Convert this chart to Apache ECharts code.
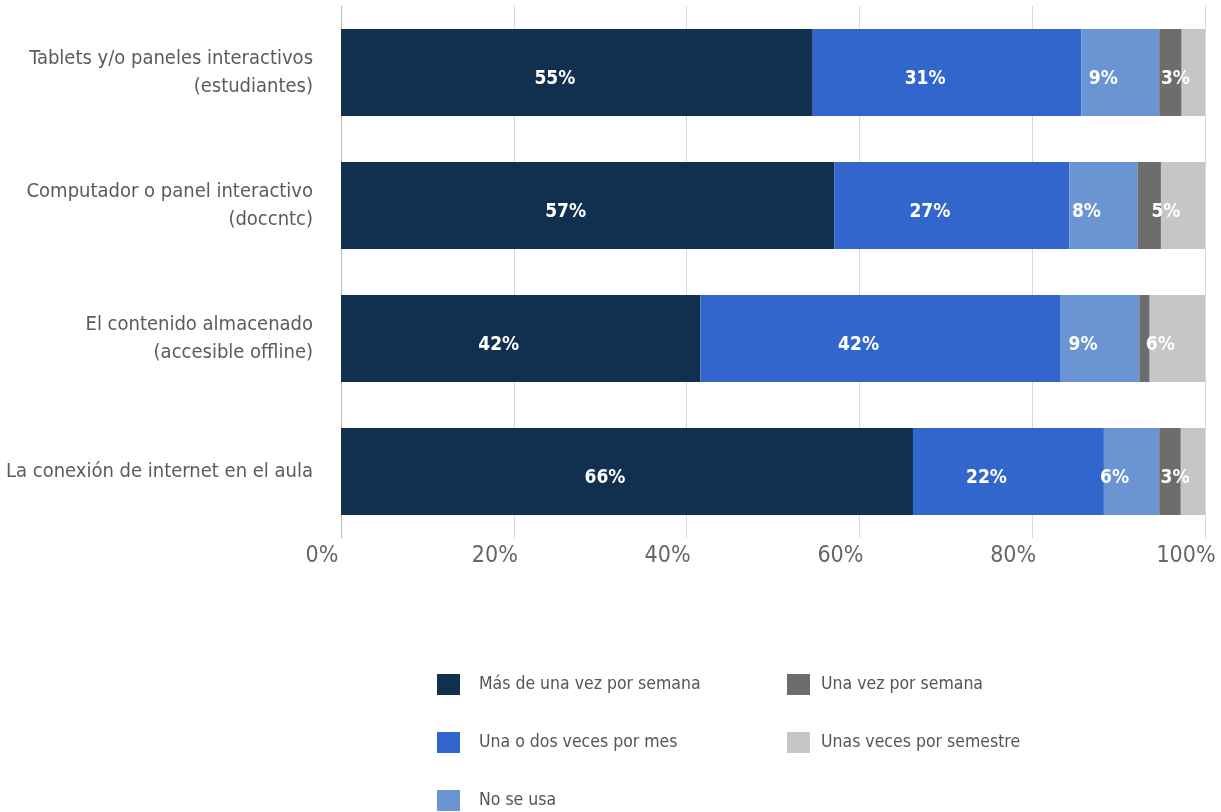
<!DOCTYPE html>
<html>
<head>
<meta charset="utf-8">
<script src="https://cdn.jsdelivr.net/npm/echarts@6/dist/echarts.min.js"></script>
<style>
  html, body { margin: 0; padding: 0; background: #ffffff; }
  #chart { width: 1221px; height: 812px; }
</style>
</head>
<body>
<div id="chart"></div>
<script>
// Categories, top to bottom
const categories = [
  'Tablets y/o paneles interactivos\n(estudiantes)',
  'Computador o panel interactivo\n(doccntc)',
  'El contenido almacenado\n(accesible offline)',
  'La conexión de internet en el aula'
];

// Frequency groups (series order = stacking order, left to right)
const seriesNames = [
  'Más de una vez por semana',
  'Una o dos veces por mes',
  'No se usa',
  'Una vez por semana',
  'Unas veces por semestre'
];

// Share of responses (%) per category
const masDeUnaVezPorSemana = [54.6, 57.1, 41.6, 66.2];
const unaODosVecesPorMes   = [31.1, 27.2, 41.7, 22.1];
const noSeUsa              = [9.0, 7.9, 9.1, 6.4];
const unaVezPorSemana      = [2.6, 2.7, 1.2, 2.5];
const unasVecesPorSemestre = [2.7, 5.1, 6.4, 2.8];

// Segments whose value label is not printed: [series index, category index]
const hiddenLabels = [[4, 0], [3, 1], [3, 2], [4, 3]];

// X-axis ticks
const xTicks = [0, 20, 40, 60, 80, 100];

const seriesValues = [
  masDeUnaVezPorSemana,
  unaODosVecesPorMes,
  noSeUsa,
  unaVezPorSemana,
  unasVecesPorSemestre
];

const colors = ['#11304f', '#3366cc', '#6b94d3', '#6d6d6d', '#c6c6c6'];
const labelOffsets = [[-22, 7], [-22, 7], [-17, 7], [5, 7], [-17, 7]];
const FONT = "'Liberation Sans Narrow', 'DejaVu Sans Condensed', Roboto, sans-serif";

const chart = echarts.init(document.getElementById('chart'), null, { renderer: 'canvas' });

const series = seriesValues.map((vals, si) => ({
  name: seriesNames[si],
  type: 'bar',
  stack: 'total',
  barWidth: 87,
  itemStyle: { color: colors[si] },
  label: {
    show: true,
    position: 'inside',
    offset: labelOffsets[si],
    color: '#ffffff',
    fontFamily: FONT,
    fontWeight: 'bold',
    fontSize: 19,
    formatter: p => Math.round(p.value) + '%'
  },
  emphasis: { disabled: true },
  data: vals.map((v, ci) => {
    const hide = hiddenLabels.some(h => h[0] === si && h[1] === ci);
    return hide ? { value: v, label: { show: false } } : v;
  })
}));

function legendBlock(left, names, textPad) {
  return {
    orient: 'vertical',
    left: left,
    top: 674,
    padding: 0,
    height: 140,
    icon: 'rect',
    itemWidth: 23,
    itemHeight: 21,
    itemGap: 37,
    selectedMode: false,
    textStyle: { fontFamily: FONT, fontSize: 17.5, color: '#555555', padding: [0, 0, 0, textPad] },
    data: names
  };
}

chart.setOption({
  animation: false,
  color: colors,
  grid: { left: 341, right: 16, top: 6, bottom: 274, containLabel: false, outerBoundsMode: 'none' },
  xAxis: {
    type: 'value',
    min: xTicks[0],
    max: xTicks[xTicks.length - 1],
    interval: xTicks[1] - xTicks[0],
    axisLine: { show: false },
    axisTick: { show: false },
    splitLine: { lineStyle: { color: '#d9d9d9', width: 1 } },
    axisLabel: {
      formatter: '{value}%',
      fontFamily: FONT,
      fontSize: 23,
      color: '#666666',
      margin: 7,
      padding: [0, 38, 0, 0]
    }
  },
  yAxis: {
    type: 'category',
    inverse: true,
    data: categories,
    axisLine: { show: true, lineStyle: { color: '#bdbdbd', width: 1 } },
    axisTick: { show: false },
    axisLabel: {
      fontFamily: FONT,
      fontSize: 20,
      lineHeight: 28,
      color: '#5b5b5b',
      margin: 28,
      align: 'right'
    }
  },
  legend: [
    legendBlock(437, seriesNames.slice(0, 3), 14),
    legendBlock(787, seriesNames.slice(3), 6)
  ],
  series: series
});
</script>
</body>
</html>
